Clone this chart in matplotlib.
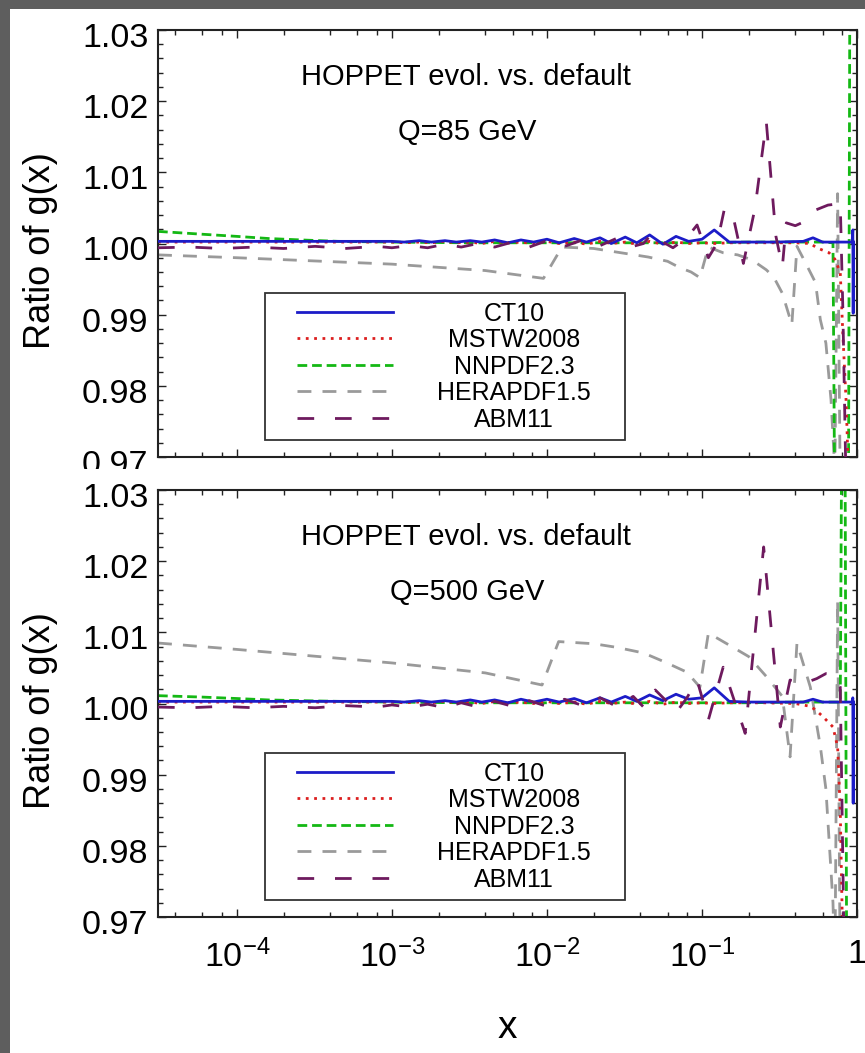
import numpy as np
import matplotlib
matplotlib.use("Agg")
import matplotlib.pyplot as plt
import matplotlib.transforms as mtransforms
from matplotlib.patches import Rectangle
from matplotlib.ticker import (FixedLocator, FixedFormatter, MultipleLocator,
                               LogLocator, NullFormatter, FormatStrFormatter)

plt.rcParams["font.family"] = ["Liberation Sans", "DejaVu Sans"]
plt.rcParams["mathtext.fontset"] = "custom"
plt.rcParams["mathtext.rm"] = "Liberation Sans"
plt.rcParams["mathtext.it"] = "Liberation Sans:italic"
plt.rcParams["mathtext.bf"] = "Liberation Sans:bold"
plt.rcParams["lines.scale_dashes"] = False

# ---- shared x grids
x_low = [3.1e-5, 1e-4, 3e-4, 8e-4]
x_mid = [1.0e-3, 1.2e-3, 1.5e-3, 1.8e-3, 2.2e-3, 2.6e-3, 3.2e-3, 3.8e-3, 4.6e-3,
         5.6e-3, 6.8e-3, 8.2e-3, 1.0e-2, 1.2e-2, 1.5e-2, 1.8e-2, 2.2e-2, 2.6e-2,
         3.2e-2, 3.8e-2, 4.6e-2, 5.6e-2, 6.8e-2, 8.2e-2, 0.10, 0.12]
x_ct10_tail = [0.15, 0.2, 0.3, 0.45, 0.52, 0.6, 0.8, 0.93, 0.94, 0.945, 0.95]
x_abm = [3.1e-5, 5e-5, 8e-5, 1.3e-4, 2e-4, 3.2e-4, 5e-4, 8e-4, 1.0e-3, 1.3e-3,
         1.7e-3, 2.2e-3, 2.8e-3, 3.6e-3, 4.6e-3, 6e-3, 7.7e-3, 1e-2, 1.3e-2,
         1.7e-2, 2.2e-2, 2.8e-2, 3.6e-2, 4.2e-2]

# ---- Q = 85 GeV
ct10_85 = [1.0003, 1.0003, 1.0003, 1.0003,
           1.0003, 1.0002, 1.0004, 1.0002, 1.0004, 1.0002, 1.0004, 1.0002, 1.0005,
           1.0001, 1.0005, 1.0002, 1.0006, 1.0001, 1.0007, 1.0002, 1.0008, 1.0000,
           1.0009, 1.0001, 1.0012, 0.9999, 1.0010, 1.0003, 1.0006, 1.0019,
           1.0002, 1.0002, 1.0002, 1.0003, 1.0008, 1.0002, 1.0002, 1.0002, 1.0019,
           0.9902, 1.0002]

x_mstw_85_tail = [0.15, 0.25, 0.4, 0.5, 0.55, 0.66, 0.72, 0.78, 0.81, 0.85, 0.88, 0.92]
mstw_85 = [1.0002, 1.0002, 1.0002, 1.0002,
           1.0002, 1.0001, 1.0002, 1.0001, 1.0003, 1.0001, 1.0002, 1.0000, 1.0003,
           1.0001, 1.0002, 1.0000, 1.0003, 1.0000, 1.0002, 0.9999, 1.0003, 1.0000,
           1.0002, 0.9999, 1.0003, 0.9999, 1.0002, 1.0000, 1.0001, 1.0000,
           1.0001, 1.0001, 1.0001, 1.0000, 0.9994, 0.9987, 0.9978, 0.9959, 0.9874,
           0.9780, 0.9680, 0.9550]

x_nnpdf_85 = [3.1e-5, 6e-5, 1e-4, 1.6e-4, 2.6e-4, 4.5e-4, 1e-3, 3e-3, 1e-2, 3e-2,
              0.1, 0.2, 0.4, 0.6, 0.7, 0.72, 0.8, 0.88, 0.9, 0.95]
nnpdf_85 = [1.0017, 1.0013, 1.0010, 1.0007, 1.0005, 1.0003, 1.0002, 1.0001, 1.0001,
            1.0001, 1.0001, 1.0002, 1.0002, 1.0002, 1.0001, 0.9600, 0.9550, 0.9600,
            1.0400, 1.0450]

x_hera_85 = [3.1e-5, 1e-4, 1e-3, 4e-3, 9.5e-3, 0.0125, 0.02, 0.03, 0.045, 0.06, 0.072,
             0.085, 0.097, 0.11, 0.137, 0.17, 0.21, 0.26, 0.29, 0.33, 0.38, 0.41,
             0.46, 0.54, 0.58, 0.63, 0.68, 0.72, 0.75, 0.78, 0.85]
hera_85 = [0.9984, 0.9980, 0.9971, 0.9962, 0.9951, 0.9995, 0.9993, 0.9987, 0.9981,
           0.9975, 0.9966, 0.9960, 0.9952, 0.9995, 0.9987, 0.9984, 0.9977, 0.9963,
           0.9953, 0.9930, 0.9886, 0.9996, 0.9975, 0.9945, 0.9893, 0.9860, 0.9780,
           0.9680, 1.0070, 0.9650, 0.9500]

x_abm_85_tail = [0.048, 0.056, 0.065, 0.08, 0.093, 0.11, 0.125, 0.14, 0.16, 0.185,
                 0.22, 0.26, 0.30, 0.33, 0.35, 0.40, 0.45, 0.54, 0.65, 0.78, 0.81, 0.86]
abm_85 = [0.9994, 0.9995, 0.9993, 0.9995, 0.9993, 0.9996, 0.9993, 0.9996, 0.9994,
          0.9997, 0.9994, 0.9999, 0.9995, 1.0000, 0.9995, 1.0002, 0.9995, 1.0004,
          0.9996, 1.0005, 0.9997, 1.0007, 0.9996, 1.0000,
          1.0015, 1.0002, 0.9994, 1.0008, 1.0026, 0.9980, 1.0000, 1.0050, 1.0035,
          0.9972, 1.0050, 1.0171, 1.0010, 0.9967, 1.0029, 1.0025, 1.0030, 1.0047,
          1.0054, 1.0056, 0.9910, 0.9600]

# ---- Q = 500 GeV
ct10_500 = [1.0003, 1.0003, 1.0003, 1.0003,
            1.0003, 1.0002, 1.0004, 1.0002, 1.0004, 1.0002, 1.0005, 1.0002, 1.0005,
            1.0001, 1.0006, 1.0002, 1.0006, 1.0002, 1.0007, 1.0001, 1.0008, 1.0002,
            1.0010, 1.0003, 1.0012, 1.0004, 1.0013, 1.0006, 1.0008, 1.0022,
            1.0003, 1.0002, 1.0002, 1.0002, 1.0006, 1.0002, 1.0002, 1.0002, 1.0008,
            0.9860, 1.0002]

x_mstw_500_tail = [0.15, 0.25, 0.4, 0.5, 0.54, 0.6, 0.7, 0.75, 0.78, 0.8, 0.83]
mstw_500 = [1.0002, 1.0002, 1.0002, 1.0002,
            1.0002, 1.0001, 1.0002, 1.0001, 1.0003, 1.0001, 1.0002, 1.0000, 1.0003,
            1.0001, 1.0002, 1.0000, 1.0003, 1.0000, 1.0002, 0.9999, 1.0003, 1.0000,
            1.0002, 0.9999, 1.0003, 0.9999, 1.0002, 1.0000, 1.0001, 1.0000,
            1.0001, 1.0001, 1.0000, 0.9996, 0.9991, 0.9982, 0.9967, 0.9939, 0.9850,
            0.9720, 0.9550]

x_nnpdf_500 = [3.1e-5, 6e-5, 1e-4, 1.6e-4, 2.6e-4, 4.5e-4, 1e-3, 3e-3, 1e-2, 3e-2,
               0.1, 0.2, 0.4, 0.6, 0.78, 0.80, 0.835, 0.86, 0.92]
nnpdf_500 = [1.0011, 1.0009, 1.0007, 1.0005, 1.0004, 1.0003, 1.0002, 1.0001, 1.0001,
             1.0001, 1.0001, 1.0001, 1.0002, 1.0002, 1.0002, 1.0450, 1.0450, 0.9550,
             0.9550]

x_hera_500 = [3.1e-5, 1e-4, 1e-3, 4e-3, 9.3e-3, 0.0119, 0.02, 0.028, 0.042, 0.058,
              0.08, 0.097, 0.11, 0.15, 0.2, 0.26, 0.33, 0.37, 0.41, 0.5, 0.58, 0.63,
              0.7, 0.72, 0.75, 0.78, 0.85]
hera_500 = [1.0085, 1.0076, 1.0057, 1.0043, 1.0026, 1.0087, 1.0084, 1.0079, 1.0071,
            1.0058, 1.0044, 1.0023, 1.0099, 1.0082, 1.0066, 1.0038, 1.0010, 0.9925,
            1.0085, 1.0023, 0.9940, 0.9880, 0.9720, 0.9620, 1.0145, 0.9600, 0.9500]

x_abm_500_tail = [0.05, 0.058, 0.068, 0.08, 0.093, 0.11, 0.137, 0.19, 0.25, 0.32,
                  0.37, 0.45, 0.55, 0.63, 0.72, 0.78, 0.82, 0.88]
abm_500 = [0.9995, 0.9994, 0.9996, 0.9994, 0.9996, 0.9994, 0.9997, 0.9995, 0.9998,
           0.9995, 0.9999, 0.9994, 1.0001, 0.9995, 1.0003, 0.9996, 1.0004, 0.9996,
           1.0006, 0.9997, 1.0008, 0.9996, 1.0010, 0.9995,
           1.0019, 1.0005, 0.9987, 1.0008, 1.0033, 0.9977, 1.0051, 0.9958, 1.0220,
           0.9967, 1.0033, 1.0028, 1.0035, 1.0042, 1.0040, 1.0023, 0.9700, 0.9500]

names = ["CT10", "MSTW2008", "NNPDF2.3", "HERAPDF1.5", "ABM11"]
styles = {
    "CT10": dict(color="#1c1cc8", linestyle="-", zorder=2.6),
    "MSTW2008": dict(color="#dc1f1f", dashes=(2.0, 4.0), zorder=2.4),
    "NNPDF2.3": dict(color="#14b814", dashes=(7.0, 3.5), zorder=2.2),
    "HERAPDF1.5": dict(color="#9a9a9a", dashes=(10.0, 8.0), zorder=2.0),
    "ABM11": dict(color="#6e1a5e", dashes=(12.0, 15.0), zorder=2.8),
}

panels = [
    ("Q=85 GeV", {
        "CT10": (x_low + x_mid + x_ct10_tail, ct10_85),
        "MSTW2008": (x_low + x_mid + x_mstw_85_tail, mstw_85),
        "NNPDF2.3": (x_nnpdf_85, nnpdf_85),
        "HERAPDF1.5": (x_hera_85, hera_85),
        "ABM11": (x_abm + x_abm_85_tail, abm_85),
    }),
    ("Q=500 GeV", {
        "CT10": (x_low + x_mid + x_ct10_tail, ct10_500),
        "MSTW2008": (x_low + x_mid + x_mstw_500_tail, mstw_500),
        "NNPDF2.3": (x_nnpdf_500, nnpdf_500),
        "HERAPDF1.5": (x_hera_500, hera_500),
        "ABM11": (x_abm + x_abm_500_tail, abm_500),
    }),
]

W, H = 865, 1053
fig = plt.figure(figsize=(W / 100, H / 100), dpi=100)
fig.patch.set_facecolor("#5e5e5e")
fig.add_artist(Rectangle((10 / W, 0), 1, (H - 9) / H, transform=fig.transFigure,
                         facecolor="white", edgecolor="none", zorder=-5))

ax_left, ax_w, ax_h = 158 / W, 699 / W, 427 / H
ax_top = fig.add_axes([ax_left, (H - 457) / H, ax_w, ax_h], zorder=0)
ax_bot = fig.add_axes([ax_left, (H - 917) / H, ax_w, ax_h], zorder=2)
# the lower panel's white sheet hides the bottom of the upper tick labels
fig.add_artist(Rectangle((10 / W, 0), 148 / W, (H - 469) / H, transform=fig.transFigure,
                         facecolor="white", edgecolor="none", zorder=1))

xticks = [1e-4, 1e-3, 1e-2, 1e-1, 1.0]
xticklabels = [r"$10^{-4}$", r"$10^{-3}$", r"$10^{-2}$", r"$10^{-1}$", "1"]

legends = []
for ax, (qlabel, curves) in zip([ax_top, ax_bot], panels):
    for name in names:
        xs, ys = curves[name]
        ax.plot(xs, ys, lw=2.0, label=name, **styles[name])

    ax.set_xscale("log")
    ax.set_xlim(3.1e-5, 1.0)
    ax.set_ylim(0.97, 1.03)
    ax.xaxis.set_major_locator(FixedLocator(xticks))
    ax.xaxis.set_major_formatter(FixedFormatter(xticklabels))
    ax.xaxis.set_minor_locator(LogLocator(base=10, subs=(2, 4, 6, 8), numticks=20))
    ax.xaxis.set_minor_formatter(NullFormatter())
    ax.yaxis.set_major_locator(MultipleLocator(0.01))
    ax.yaxis.set_minor_locator(MultipleLocator(0.002))
    ax.yaxis.set_major_formatter(FormatStrFormatter("%.2f"))
    ax.tick_params(which="both", direction="in", top=True, right=True,
                   colors="#222222", labelcolor="black", width=1.0)
    ax.tick_params(which="major", length=6, labelsize=24.5)
    ax.tick_params(which="minor", length=3.5)
    ax.tick_params(axis="y", pad=7)
    ax.tick_params(axis="x", pad=16)
    for sp in ax.spines.values():
        sp.set_linewidth(1.5)
        sp.set_color("#222222")

    ax.set_ylabel("Ratio of g(x)", fontsize=26)
    ax.yaxis.set_label_coords(-0.143, 0.484)

    ax.text(0.441, 0.889, "HOPPET evol. vs. default", transform=ax.transAxes,
            ha="center", va="center", fontsize=21)
    ax.text(0.443, 0.760, qlabel, transform=ax.transAxes,
            ha="center", va="center", fontsize=21)

    leg = ax.legend(loc="lower left", bbox_to_anchor=(0.153, 0.040, 0.515, 0.344),
                    mode="expand", borderaxespad=0.0, fontsize=18, handlelength=3.84,
                    handletextpad=1.0, labelspacing=0.1, borderpad=0.33,
                    fancybox=False, edgecolor="#333333", framealpha=1.0)
    leg.get_frame().set_linewidth(1.3)
    legends.append(leg)

ax_top.tick_params(axis="x", labelbottom=False)
ax_bot.set_xlabel("x", fontsize=28)
ax_bot.xaxis.label.set_verticalalignment("baseline")
ax_bot.xaxis.set_label_coords(0.5, -(1038 - 917) / 427)

fig.canvas.draw()
renderer = fig.canvas.get_renderer()

# y tick labels sit a little below their ticks
for ax in (ax_top, ax_bot):
    for lbl in ax.get_yticklabels():
        lbl.set_transform(lbl.get_transform() + mtransforms.Affine2D().translate(0, -5))

# centre the legend labels and inset the line samples inside the frame
for leg in legends:
    frame = leg.get_frame().get_window_extent(renderer)
    for line in leg.get_lines():
        pts = line.get_transform().transform(
            np.column_stack([line.get_xdata(), line.get_ydata()]))
        dx = frame.x0 + 0.089 * frame.width - pts[:, 0].min()
        line.set_transform(line.get_transform() + mtransforms.Affine2D().translate(dx, 0))
    for t in leg.get_texts():
        bb = t.get_window_extent(renderer)
        dx = frame.x0 + 0.692 * frame.width - 0.5 * (bb.x0 + bb.x1)
        t.set_transform(t.get_transform() + mtransforms.Affine2D().translate(dx, 0))

fig.savefig("out.png", dpi=100, facecolor=fig.get_facecolor())
